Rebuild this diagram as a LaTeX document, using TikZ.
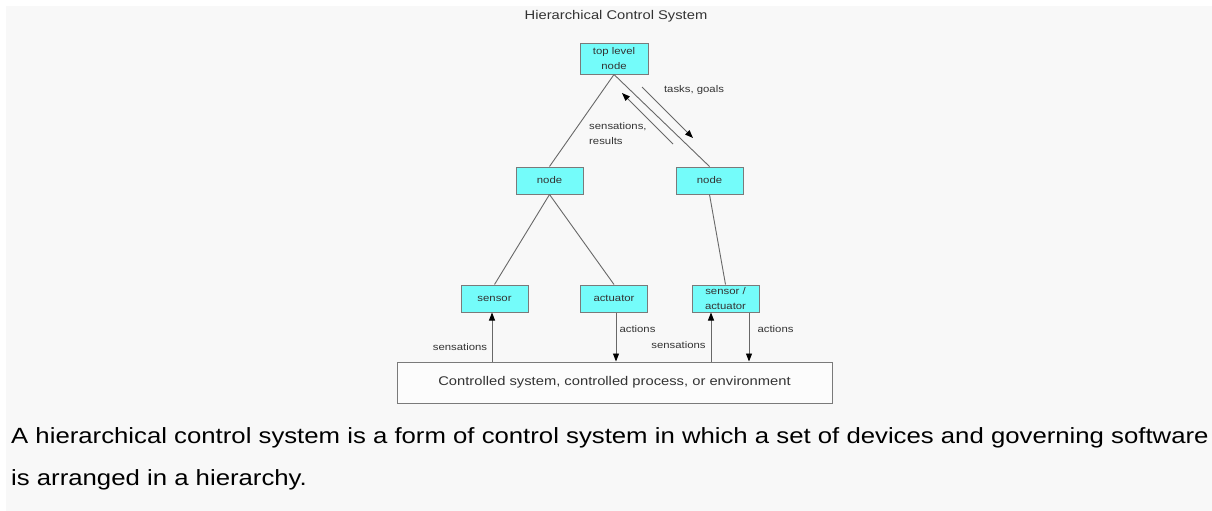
\documentclass[tikz,border=0pt]{standalone}
\usepackage{fontspec}
\setmainfont{Liberation Sans}[FakeStretch=1.17]
\usetikzlibrary{arrows.meta}
\definecolor{boxcyan}{HTML}{74FCFA}
\definecolor{pagegray}{HTML}{F8F8F8}
\definecolor{inkgray}{HTML}{333333}
\definecolor{edgegray}{HTML}{7A7A7A}

\begin{document}
\begin{tikzpicture}[x=1pt, y=-1pt,
    box/.style={rectangle, draw=edgegray, fill=boxcyan, line width=1pt, minimum width=67pt, minimum height=27pt, inner sep=0pt, text=inkgray, font=\fontsize{9.7}{15}\selectfont, align=center},
    lbl/.style={inner sep=0pt, text=inkgray, font=\fontsize{9.7}{15}\selectfont},
    link/.style={draw=edgegray!85!black, line width=0.9pt},
    arr/.style={link, -{Triangle[length=8pt, width=6pt, black]}}]
  \useasboundingbox (0,0) rectangle (1212,511);
  \fill[pagegray] (6,6) rectangle (1212,511);

  \node[lbl, font=\fontsize{12.6}{15}\selectfont] (title) at (616,16) {Hierarchical Control System};

  % tree
  \node[box, minimum width=68pt, minimum height=30pt] (top) at (614,59) {top level\\node};
  \node[box] (nodeL) at (549.5,180.5) {node};
  \node[box] (nodeR) at (709.5,180.5) {node};
  \node[box] (sensor) at (494.5,298.5) {sensor};
  \node[box] (actuator) at (614,298.5) {actuator};
  \node[box] (sa) at (725.5,298.5) {sensor /\\actuator};
  \node[box, fill=white!60!pagegray, minimum width=435pt, minimum height=41pt, font=\fontsize{12.6}{15}\selectfont] (env) at (614.5,382.5) {Controlled system, controlled process, or environment};

  \draw[link] (top.south) -- (nodeL.north);
  \draw[link] (top.south) -- (nodeR.north);
  \draw[link] (nodeL.south) -- (sensor.north);
  \draw[link] (nodeL.south) -- (actuator.north);
  \draw[link] (nodeR.south) -- (sa.north);

  % flows between levels
  \coordinate (tg1) at (642,87);
  \coordinate (tg2) at (693,138);
  \coordinate (sr1) at (673,144);
  \coordinate (sr2) at (622,93);
  \draw[arr] (tg1) -- (tg2);
  \draw[arr] (sr1) -- (sr2);
  \node[lbl] (tasks) at (694,90) {tasks, goals};
  \node[lbl, anchor=west, align=left] (results) at (589,133.5) {sensations,\\results};

  % flows to and from the environment
  \draw[arr] ([xshift=-2.5pt]sensor.south |- env.north) -- ([xshift=-2.5pt]sensor.south);
  \draw[arr] ([xshift=2pt]actuator.south) -- ([xshift=2pt]actuator.south |- env.north);
  \draw[arr] ([xshift=-14.5pt]sa.south |- env.north) -- ([xshift=-14.5pt]sa.south);
  \draw[arr] ([xshift=23.5pt]sa.south) -- ([xshift=23.5pt]sa.south |- env.north);
  \node[lbl] (sensL) at (460,347) {sensations};
  \node[lbl] (actL) at (637.5,329) {actions};
  \node[lbl] (sensR) at (678.5,345) {sensations};
  \node[lbl] (actR) at (775.5,329) {actions};

  % caption
  \node[anchor=base west, inner sep=0pt, font=\fontsize{22}{26}\selectfont] (line1) at (11,443) {A hierarchical control system is a form of control system in which a set of devices and governing software};
  \node[anchor=base west, inner sep=0pt, font=\fontsize{22}{26}\selectfont] (line2) at (11,485) {is arranged in a hierarchy.};
\end{tikzpicture}
\end{document}
